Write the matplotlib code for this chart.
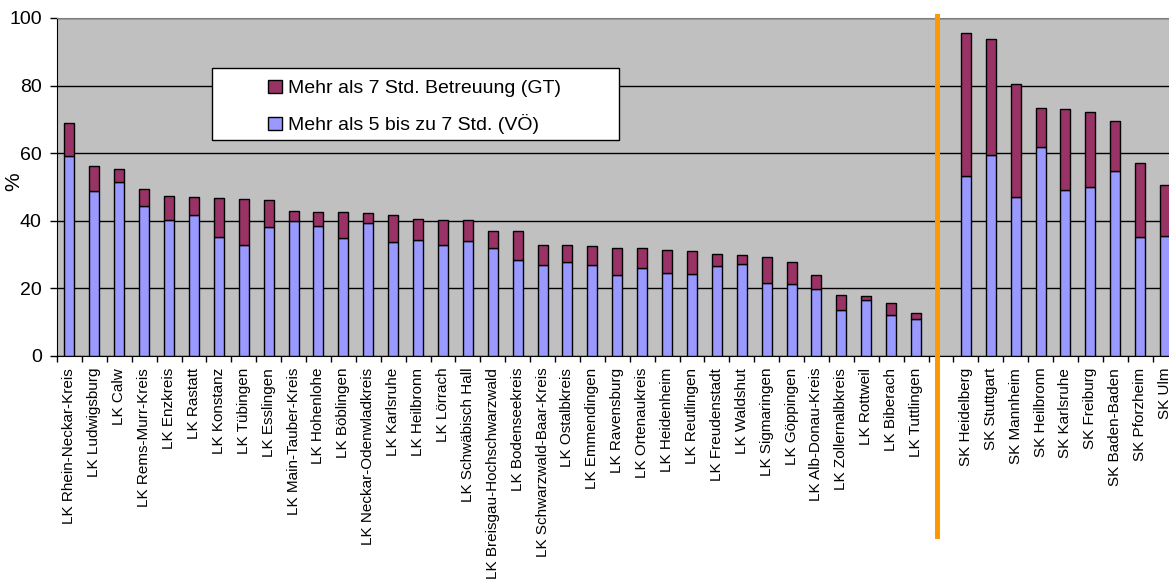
import matplotlib.pyplot as plt
import numpy as np
from matplotlib.patches import Patch, Rectangle
from matplotlib.lines import Line2D

plt.rcParams['font.family'] = ['Liberation Sans', 'DejaVu Sans']

# Landkreise
lk_namen = ["LK Rhein-Neckar-Kreis", "LK Ludwigsburg", "LK Calw", "LK Rems-Murr-Kreis",
            "LK Enzkreis", "LK Rastatt", "LK Konstanz", "LK Tübingen", "LK Esslingen",
            "LK Main-Tauber-Kreis", "LK Hohenlohe", "LK Böblingen", "LK Neckar-Odenwladkreis",
            "LK Karlsruhe", "LK Heilbronn", "LK Lörrach", "LK Schwäbisch Hall",
            "LK Breisgau-Hochschwarzwald", "LK Bodenseekreis", "LK Schwarzwald-Baar-Kreis",
            "LK Ostalbkreis", "LK Emmendingen", "LK Ravensburg", "LK Ortenaukreis",
            "LK Heidenheim", "LK Reutlingen", "LK Freudenstadt", "LK Waldshut",
            "LK Sigmaringen", "LK Göppingen", "LK Alb-Donau-Kreis", "LK Zollernalbkreis",
            "LK Rottweil", "LK Biberach", "LK Tuttlingen"]
lk_vo = [59.2, 48.8, 51.4, 44.4, 40.2, 41.7, 35.1, 32.7, 38.1, 39.8, 38.5, 34.9, 39.4,
         33.6, 34.3, 32.7, 33.9, 32.1, 28.4, 26.8, 27.8, 26.8, 24.1, 26.0, 24.7, 24.4,
         26.7, 27.1, 21.6, 21.4, 19.7, 13.6, 16.6, 12.1, 11.0]
lk_gt = [9.8, 7.4, 3.8, 4.9, 7.0, 5.3, 11.7, 13.7, 8.1, 3.1, 4.0, 7.6, 2.9,
         8.0, 6.3, 7.6, 6.2, 4.8, 8.5, 6.1, 4.9, 5.6, 7.9, 6.0, 6.7, 6.7,
         3.6, 2.9, 7.6, 6.5, 4.4, 4.4, 1.1, 3.7, 1.7]

# Stadtkreise
sk_namen = ["SK Heidelberg", "SK Stuttgart", "SK Mannheim", "SK Heilbronn", "SK Karlsruhe",
            "SK Freiburg", "SK Baden-Baden", "SK Pforzheim", "SK Ulm"]
sk_vo = [53.3, 59.6, 47.0, 61.9, 49.1, 50.0, 54.7, 35.1, 35.6]
sk_gt = [42.2, 34.3, 33.5, 11.4, 23.9, 22.1, 14.8, 21.9, 14.9]

label_gt = "Mehr als 7 Std. Betreuung (GT)"
label_vo = "Mehr als 5 bis zu 7 Std. (VÖ)"
farbe_vo = "#9999FF"
farbe_gt = "#993366"

W, H = 1169, 581
fig = plt.figure(figsize=(W / 100, H / 100), dpi=100)
# Diagrammfläche (rechts abgeschnitten wie im Original)
ax = fig.add_axes([57 / W, (H - 356) / H, 1120.5 / W, 338 / H])
ax.set_facecolor("#C0C0C0")

x_lk = np.arange(len(lk_namen))
x_sk = np.arange(len(sk_namen)) + len(lk_namen) + 1
breite = 0.4

for x, vo, gt in [(x_lk, lk_vo, lk_gt), (x_sk, sk_vo, sk_gt)]:
    ax.bar(x, vo, breite, color=farbe_vo, edgecolor="black", linewidth=1.0, zorder=3)
    ax.bar(x, gt, breite, bottom=vo, color=farbe_gt, edgecolor="black", linewidth=1.0, zorder=3)

n = len(lk_namen) + 1 + len(sk_namen)
ax.set_xlim(-0.5, n - 0.5)
ax.set_ylim(0, 100)

ax.set_xticks(list(x_lk) + list(x_sk))
ax.set_xticklabels(lk_namen + sk_namen, rotation=90, fontsize=11)
ax.set_xticks(np.arange(n + 1) - 0.5, minor=True)
ax.tick_params(axis="x", which="major", length=0, pad=8.5)
ax.tick_params(axis="x", which="minor", length=4, width=1, direction="out")

ax.set_yticks(np.arange(0, 101, 20))
ax.tick_params(axis="y", labelsize=14, length=5, width=1, pad=6)
ax.yaxis.grid(True, color="black", linewidth=1, zorder=1)
ax.set_axisbelow(True)

for s in ["top", "right"]:
    ax.spines[s].set_color("#808080")
ax.spines["left"].set_color("black")
ax.spines["bottom"].set_color("black")

ax.set_ylabel("%", fontsize=15, rotation=90)
ax.yaxis.set_label_coords(-0.03, 0.515)

# orange Trennlinie zwischen LK und SK
trenn = Line2D([34.86, 34.86], [1.006, -0.533], color="#FF9900", linewidth=3.6,
               transform=ax.get_xaxis_transform(), clip_on=False, zorder=5)
ax.add_line(trenn)

# Legende mit weißem Kasten
kasten = Rectangle((212 / W, 1 - 140 / H), (619 - 212) / W, (140 - 68) / H,
                   transform=fig.transFigure, facecolor="white", edgecolor="black",
                   linewidth=1, zorder=6)
fig.patches.append(kasten)
handles = [Patch(facecolor=farbe_gt, edgecolor="black", linewidth=1),
           Patch(facecolor=farbe_vo, edgecolor="black", linewidth=1)]
leg = fig.legend(handles, [label_gt, label_vo], loc="upper left",
                 bbox_to_anchor=(268 / W, 1 - 79.5 / H), bbox_transform=fig.transFigure,
                 frameon=False, fontsize=14, borderpad=0, borderaxespad=0,
                 handlelength=0.72, handleheight=0.72, handletextpad=0.3,
                 labelspacing=0.88)
leg.set_zorder(7)

fig.savefig("out.png", dpi=100)
